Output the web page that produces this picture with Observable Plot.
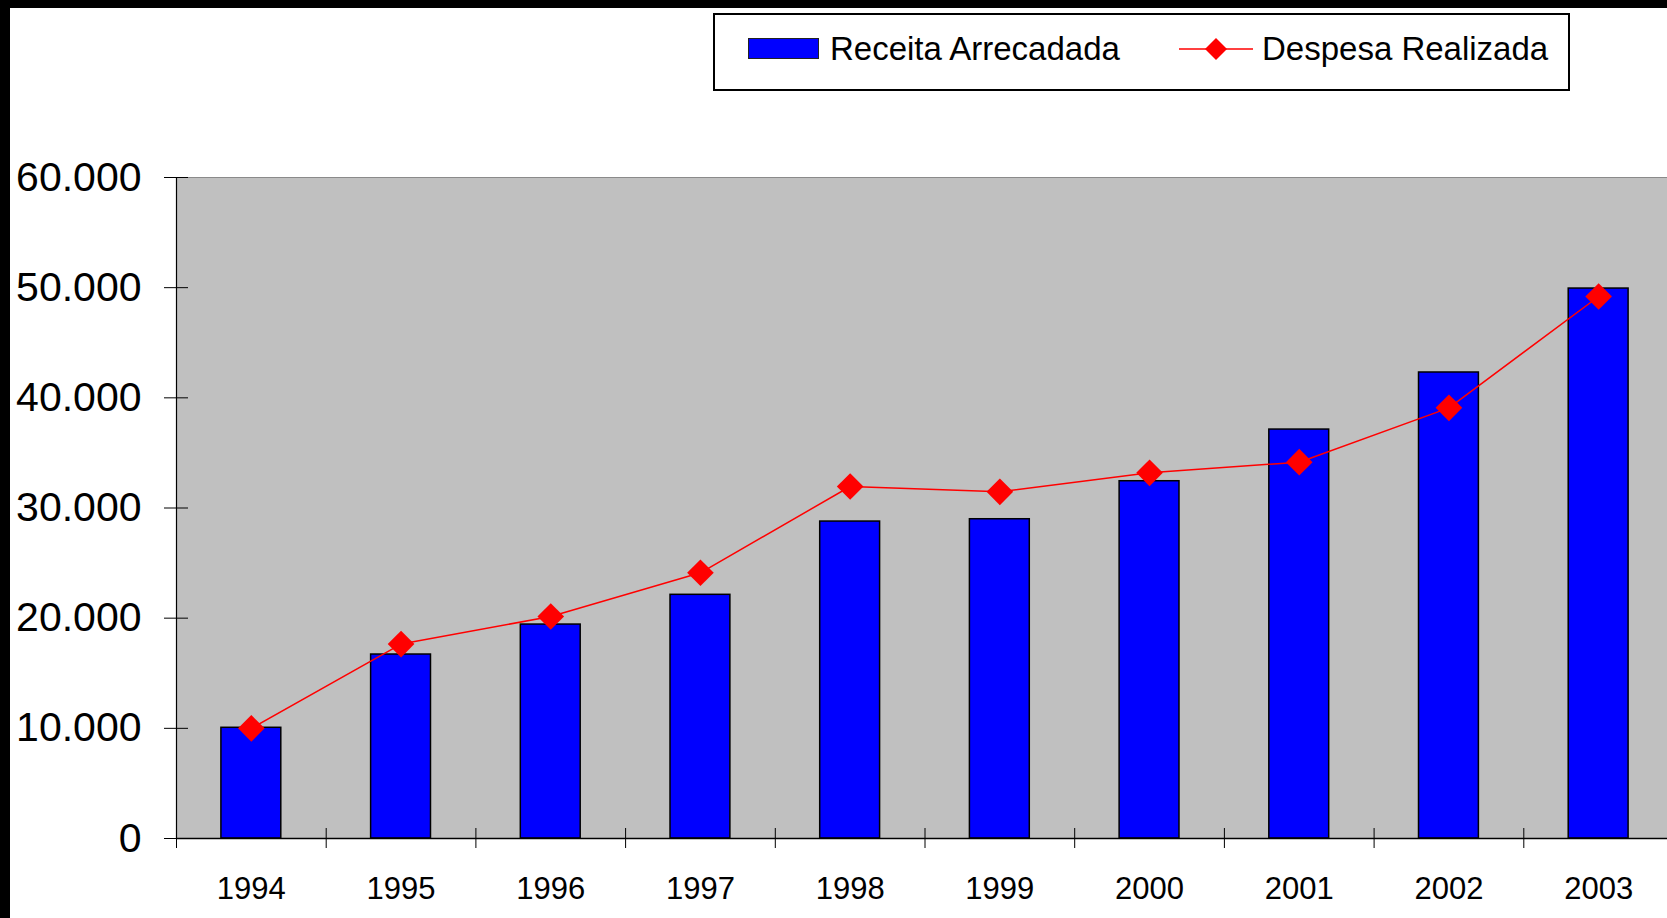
<!DOCTYPE html>
<html>
<head>
<meta charset="utf-8">
<script src="https://cdn.jsdelivr.net/npm/d3@7"></script>
<script src="https://cdn.jsdelivr.net/npm/@observablehq/plot@0.6"></script>
<style>
  html, body { margin: 0; padding: 0; background: #fff; }
  body { width: 1667px; height: 918px; position: relative; overflow: hidden; font-family: "Liberation Sans", Arial, sans-serif; }
  #header { position: relative; height: 100px; }
  #legend { position: absolute; left: 713px; top: 13px; width: 853px; height: 74px; border: 2px solid #000; background: #fff; }
  .lg-item { position: absolute; top: -3px; height: 74px; display: flex; align-items: center; font-size: 33px; color: #000; white-space: nowrap; }
  #bl { position: absolute; left: 0; top: 0; width: 10px; height: 918px; background: #000; z-index: 5; }
  #bt { position: absolute; left: 0; top: 0; width: 1667px; height: 8px; background: #000; z-index: 5; }
  #chart svg { display: block; overflow: visible; }
</style>
</head>
<body>
<div id="bl"></div>
<div id="bt"></div>
<div id="header">
  <div id="legend">
    <div class="lg-item" style="left:33px;">
      <svg width="72" height="22" style="margin-right:10px;"><rect x="0.5" y="0.5" width="70" height="20" fill="#0000ff" stroke="#222" stroke-width="1"/></svg>
      <span>Receita Arrecadada</span>
    </div>
    <div class="lg-item" style="left:464px;">
      <svg width="74" height="26" style="margin-right:9px;"><line x1="0" y1="13" x2="74" y2="13" stroke="#ff0000" stroke-width="1.5"/><path d="M37,2 L48,13 L37,24 L26,13 Z" fill="#ff0000"/></svg>
      <span>Despesa Realizada</span>
    </div>
  </div>
</div>
<div id="chart"></div>
<script>
const years = [1994, 1995, 1996, 1997, 1998, 1999, 2000, 2001, 2002, 2003];
const receita = [10050, 16700, 19420, 22120, 28770, 28980, 32430, 37120, 42300, 49920];
const despesa = [10000, 17650, 20150, 24120, 31950, 31470, 33190, 34160, 39090, 49200];
const yTicks = [0, 10000, 20000, 30000, 40000, 50000, 60000];

const data = years.map((y, i) => ({year: y, receita: receita[i], despesa: despesa[i]}));

const W = 1667, H = 818;
const mTop = 77, mBottom = 80, mLeft = 176, mRight = 0;
const xRange = [176, 1673];
const frameW = W - mLeft - mRight;
const frameH = H - mTop - mBottom;
const step = (xRange[1] - xRange[0]) / years.length;

const locale = d3.formatLocale({decimal: ",", thousands: ".", grouping: [3], currency: ["", ""]});
const fmt = locale.format(",d");

const chart = Plot.plot({
  width: W,
  height: H,
  marginTop: mTop,
  marginBottom: mBottom,
  marginLeft: mLeft,
  marginRight: mRight,
  style: {fontFamily: "'Liberation Sans', Arial, sans-serif", background: "transparent", color: "#000", overflow: "visible"},
  x: {type: "band", domain: years, range: xRange, paddingInner: 0.6, paddingOuter: 0.3, round: false, axis: null},
  y: {domain: [0, 60000], axis: null},
  marks: [
    Plot.frame({fill: "#c0c0c0", stroke: "#8a8a8a", strokeWidth: 1}),
    Plot.barY(data, {x: "year", y: "receita", fill: "#0000ff", stroke: "#000", strokeWidth: 1.5}),
    Plot.lineY(data, {x: "year", y: "despesa", stroke: "#ff0000", strokeWidth: 1.5}),
    Plot.dot(data, {x: "year", y: "despesa", symbol: "diamond2", r: 12, fill: "#ff0000", stroke: "none"}),
    Plot.frame({anchor: "left", stroke: "#000", strokeWidth: 1.2}),
    Plot.ruleY([0], {stroke: "#000", strokeWidth: 1.5}),
    Plot.ruleY(yTicks, {y: d => d, insetRight: frameW - 24, dx: -12, stroke: "#000", strokeWidth: 1}),
    Plot.ruleX(years, {x: d => d, dx: -step / 2, insetTop: frameH - 20, dy: 10, stroke: "#000", strokeWidth: 1}),
    Plot.axisY({ticks: yTicks, tickSize: 0, tickPadding: 35, tickFormat: fmt, fontSize: 41, label: null}),
    Plot.axisX({tickSize: 0, tickPadding: 38, fontSize: 31, tickFormat: d => String(d), label: null})
  ]
});
document.getElementById("chart").appendChild(chart);
</script>
</body>
</html>
